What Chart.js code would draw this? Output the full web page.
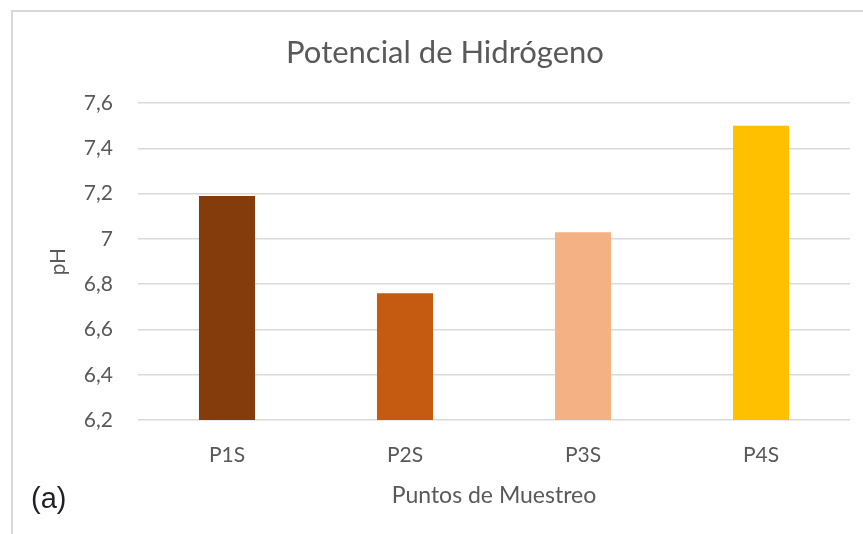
<!DOCTYPE html>
<html>
<head>
<meta charset="utf-8">
<script src="https://cdn.jsdelivr.net/npm/chart.js@4/dist/chart.umd.min.js"></script>
<style>
  html, body { margin: 0; padding: 0; background: #fff; }
  #wrap { position: relative; width: 863px; height: 534px; overflow: hidden; }
  #frame { position: absolute; left: 11px; top: 10px; width: 870px; height: 540px;
           border-left: 2px solid #d9d9d9; border-top: 2px solid #d9d9d9; box-sizing: border-box; }
  #c { position: absolute; left: 0; top: 0; }
  #tag { position: absolute; left: 31px; top: 484px; font-family: "Liberation Sans", Arial, sans-serif;
         font-size: 29px; color: #1f1f2a; line-height: 1; }
</style>
</head>
<body>
<div id="wrap">
  <div id="frame"></div>
  <canvas id="c" width="863" height="534"></canvas>
  <div id="tag">(a)</div>
</div>
<script>
const categories = ["P1S", "P2S", "P3S", "P4S"];
const phValues = [7.19, 6.76, 7.03, 7.5];
const barColors = ["#843C0C", "#C55A11", "#F4B183", "#FFC000"];
const chartTitle = "Potencial de Hidrógeno";
const xTitle = "Puntos de Muestreo";
const yTitle = "pH";

const txt = "#595959";
const fam = "Lato, 'Open Sans', sans-serif";

new Chart(document.getElementById("c"), {
  type: "bar",
  data: {
    labels: categories,
    datasets: [{
      data: phValues,
      backgroundColor: barColors,
      borderWidth: 0,
      categoryPercentage: 1,
      barPercentage: 0.315
    }]
  },
  options: {
    responsive: false,
    animation: false,
    devicePixelRatio: 1,
    layout: { padding: { left: 40, right: 13, top: 0, bottom: 0 } },
    plugins: {
      legend: { display: false },
      tooltip: { enabled: false },
      title: {
        display: true,
        text: chartTitle,
        color: txt,
        font: { family: fam, size: 31, weight: "normal" },
        padding: { top: 34, bottom: 32 }
      }
    },
    scales: {
      x: {
        grid: { display: false, drawTicks: false },
        border: { display: false },
        ticks: { color: txt, font: { family: fam, size: 21 }, padding: 23 },
        title: { display: true, text: xTitle, color: txt, font: { family: fam, size: 23 }, padding: { top: 0, bottom: 25 } },
        afterFit: s => { s.height = 114; }
      },
      y: {
        min: 6.2,
        max: 7.6,
        grid: { color: "#d9d9d9", lineWidth: 1.5, drawTicks: false },
        border: { display: false },
        ticks: {
          stepSize: 0.2,
          color: txt,
          padding: 25,
          font: { family: fam, size: 21 },
          callback: v => (Math.round(v * 10) / 10).toString().replace(".", ",")
        },
        title: { display: true, text: yTitle, color: txt, font: { family: fam, size: 21 }, padding: { top: 6, bottom: 0 } },
        afterFit: s => { s.width = 98; }
      }
    }
  }
});
</script>
</body>
</html>
